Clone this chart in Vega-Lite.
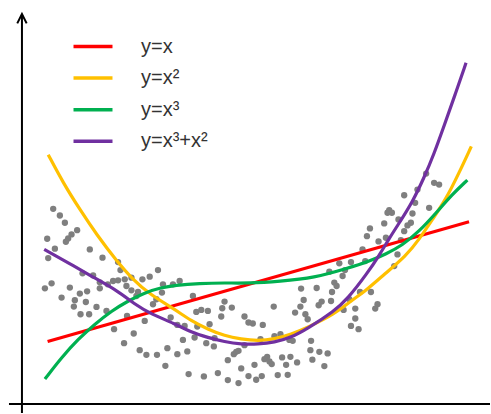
{
  "$schema": "https://vega.github.io/schema/vega-lite/v6.json",
  "width": 491,
  "height": 414,
  "autosize": {"type": "fit", "contains": "padding"},
  "padding": 0,
  "background": "white",
  "config": {"view": {"stroke": null}},
  "datasets": {
    "pts": [
      {"x":31.3,"y":195.7},{"x":38,"y":189},{"x":43,"y":181.7},{"x":55.3,"y":174.3},{"x":49.7,"y":170},{"x":46.3,"y":166},{"x":44,"y":162.7},{"x":25.3,"y":165.7},{"x":33,"y":155.7},{"x":26.3,"y":146.3},{"x":68,"y":155},{"x":80.7,"y":146.7},{"x":96.3,"y":142.3},{"x":98.7,"y":134.3},{"x":136.3,"y":134.3},{"x":128,"y":127.7},{"x":71.3,"y":129},{"x":60.7,"y":131},{"x":78,"y":122},{"x":86,"y":120},{"x":91.3,"y":123.3},{"x":96.3,"y":124},{"x":103,"y":125},{"x":109.7,"y":126.7},{"x":120.7,"y":125},{"x":141.3,"y":120},{"x":151.3,"y":120},{"x":23,"y":116},{"x":29.7,"y":121},{"x":48,"y":116.7},{"x":39.7,"y":106.7},{"x":58,"y":110.7},{"x":65.3,"y":113},{"x":53,"y":104},{"x":64,"y":102.3},{"x":52,"y":97.7},{"x":58.7,"y":90},{"x":67.3,"y":90},{"x":74.7,"y":97.3},{"x":84.7,"y":93.3},{"x":78,"y":116},{"x":116.3,"y":112.3},{"x":104.7,"y":118.3},{"x":109.7,"y":114},{"x":114.7,"y":108.3},{"x":134.7,"y":105},{"x":140.3,"y":111.7},{"x":131.3,"y":100},{"x":123,"y":83.3},{"x":105.3,"y":88.3},{"x":92.3,"y":75},{"x":112,"y":70.7},{"x":102.3,"y":61},{"x":118,"y":54},{"x":124.7,"y":49.3},{"x":135.3,"y":49.3},{"x":145.7,"y":56},{"x":143.7,"y":38.3},{"x":149,"y":86.7},
      {"x":158,"y":123.3},{"x":171.3,"y":108.3},{"x":203,"y":102.7},{"x":200.7,"y":96},{"x":210.3,"y":96.7},{"x":174.7,"y":92.3},{"x":179.7,"y":94.3},{"x":186.3,"y":93.3},{"x":199.7,"y":87.7},{"x":223,"y":87.7},{"x":227,"y":81.7},{"x":231.3,"y":80.7},{"x":241.3,"y":79.3},{"x":252.3,"y":97.7},{"x":279.7,"y":115.7},{"x":282.3,"y":104.3},{"x":279,"y":97.7},{"x":273.7,"y":91.7},{"x":284,"y":90},{"x":286.3,"y":85},{"x":188,"y":80},{"x":175.7,"y":77.7},{"x":163,"y":78.3},{"x":155.7,"y":79.3},{"x":173,"y":66.7},{"x":161.3,"y":64.3},{"x":184.7,"y":61},{"x":193,"y":66},{"x":192.3,"y":57.7},{"x":223,"y":59},{"x":239,"y":65},{"x":253,"y":68},{"x":259,"y":70},{"x":268,"y":64.3},{"x":271.3,"y":63.3},{"x":289.7,"y":63.3},{"x":155.7,"y":50},{"x":165.7,"y":52.7},{"x":212.3,"y":50},{"x":214.7,"y":52.3},{"x":217,"y":53.3},{"x":206.3,"y":44},{"x":233,"y":39.3},{"x":245.7,"y":47.3},{"x":243,"y":45},{"x":248,"y":42.7},{"x":250.3,"y":40},{"x":260.7,"y":46.7},{"x":269,"y":47.3},{"x":264.7,"y":39.3},{"x":275.7,"y":41.7},{"x":289,"y":54},{"x":219.7,"y":35.7},{"x":167,"y":30},{"x":182.3,"y":27.7},{"x":196.3,"y":31},{"x":206.3,"y":24},{"x":217,"y":21},{"x":227,"y":28},{"x":234.7,"y":24.3},{"x":240.3,"y":28},{"x":256.3,"y":29},{"x":266.3,"y":29.3},
      {"x":413,"y":221.7},{"x":418,"y":220},{"x":405,"y":231},{"x":383,"y":209.3},{"x":396.3,"y":215},{"x":394,"y":201.7},{"x":408,"y":196.7},{"x":368,"y":194.3},{"x":366.3,"y":191.7},{"x":370.7,"y":191.7},{"x":391.3,"y":191},{"x":377.3,"y":185},{"x":389.7,"y":181.7},{"x":386.3,"y":179},{"x":363,"y":181},{"x":383,"y":173.3},{"x":348.7,"y":176},{"x":345.7,"y":168.3},{"x":357.3,"y":163},{"x":364.7,"y":166.7},{"x":341.3,"y":155},{"x":379.7,"y":164.3},{"x":376.3,"y":150},{"x":344,"y":143.3},{"x":329.7,"y":142.3},{"x":318,"y":141},{"x":323.7,"y":134.3},{"x":308,"y":132.7},{"x":321.3,"y":128.3},{"x":313,"y":121.7},{"x":315.3,"y":118.3},{"x":310.7,"y":112.3},{"x":373,"y":138.3},{"x":295.3,"y":116.3},{"x":300.3,"y":102.7},{"x":297.3,"y":99},{"x":309.7,"y":103.3},{"x":328,"y":105},{"x":338.7,"y":112.3},{"x":349.7,"y":112.3},{"x":356.3,"y":100},{"x":354,"y":95.7},{"x":322.3,"y":94.3},{"x":334,"y":95.7},{"x":334,"y":85.7},{"x":329.7,"y":78.3},{"x":337.3,"y":75},{"x":298,"y":52.3},{"x":306.3,"y":50.7},{"x":303,"y":38},{"x":291,"y":44.5}
    ],
    "curves": [
      {"s":"y=x","x":25.7,"y":62.7},{"s":"y=x","x":448,"y":182.7},
      {"s":"y=x²","x":26.3,"y":250},{"s":"y=x²","x":41.3,"y":221.7},{"s":"y=x²","x":58,"y":195},{"s":"y=x²","x":74.7,"y":170},{"s":"y=x²","x":95,"y":143.3},{"s":"y=x²","x":111,"y":125},{"s":"y=x²","x":128,"y":110},{"s":"y=x²","x":153,"y":95},{"s":"y=x²","x":169.7,"y":83.3},{"s":"y=x²","x":186.3,"y":75},{"s":"y=x²","x":203,"y":68.3},{"s":"y=x²","x":219.7,"y":65},{"s":"y=x²","x":236.3,"y":63.3},{"s":"y=x²","x":253,"y":65},{"s":"y=x²","x":269.7,"y":70},{"s":"y=x²","x":286.3,"y":76.7},{"s":"y=x²","x":313,"y":90},{"s":"y=x²","x":329.7,"y":103.3},{"s":"y=x²","x":346.3,"y":115},{"s":"y=x²","x":363,"y":130},{"s":"y=x²","x":384.7,"y":148.3},{"s":"y=x²","x":398,"y":165},{"s":"y=x²","x":411.3,"y":185},{"s":"y=x²","x":424.7,"y":205},{"s":"y=x²","x":438,"y":231.7},{"s":"y=x²","x":450.3,"y":258.3},
      {"s":"y=x³","x":23,"y":25},{"s":"y=x³","x":39.7,"y":46.7},{"s":"y=x³","x":56.3,"y":65},{"s":"y=x³","x":73,"y":80},{"s":"y=x³","x":89.7,"y":93.3},{"s":"y=x³","x":106.3,"y":103.3},{"s":"y=x³","x":123,"y":111.7},{"s":"y=x³","x":139.7,"y":116.7},{"s":"y=x³","x":153,"y":119},{"s":"y=x³","x":178,"y":121},{"s":"y=x³","x":203,"y":121.5},{"s":"y=x³","x":228,"y":121},{"s":"y=x³","x":258,"y":123},{"s":"y=x³","x":293,"y":126.5},{"s":"y=x³","x":326,"y":136},{"s":"y=x³","x":348,"y":143},{"s":"y=x³","x":365,"y":150.5},{"s":"y=x³","x":381,"y":159},{"s":"y=x³","x":398,"y":173},{"s":"y=x³","x":415,"y":191.5},{"s":"y=x³","x":431,"y":210},{"s":"y=x³","x":446.3,"y":224.5},
      {"s":"y=x³+x²","x":22.3,"y":155},{"s":"y=x³+x²","x":46.3,"y":141.7},{"s":"y=x³+x²","x":68,"y":129},{"s":"y=x³+x²","x":96.3,"y":113.3},{"s":"y=x³+x²","x":113,"y":100},{"s":"y=x³+x²","x":129.7,"y":90},{"s":"y=x³+x²","x":153,"y":80.7},{"s":"y=x³+x²","x":169.7,"y":71.7},{"s":"y=x³+x²","x":186.3,"y":66.7},{"s":"y=x³+x²","x":203,"y":62.3},{"s":"y=x³+x²","x":219.7,"y":60},{"s":"y=x³+x²","x":236.3,"y":60},{"s":"y=x³+x²","x":253,"y":61.7},{"s":"y=x³+x²","x":269.7,"y":66.7},{"s":"y=x³+x²","x":286.3,"y":75.7},{"s":"y=x³+x²","x":313,"y":93.3},{"s":"y=x³+x²","x":326,"y":105},{"s":"y=x³+x²","x":346,"y":131},{"s":"y=x³+x²","x":358,"y":149},{"s":"y=x³+x²","x":368,"y":166},{"s":"y=x³+x²","x":379,"y":183},{"s":"y=x³+x²","x":391,"y":202},{"s":"y=x³+x²","x":403,"y":227},{"s":"y=x³+x²","x":413,"y":251},{"s":"y=x³+x²","x":423,"y":279},{"s":"y=x³+x²","x":434,"y":310},{"s":"y=x³+x²","x":445,"y":342}
    ]
  },
  "layer": [
    {
      "data": {"name": "pts"},
      "mark": {"type": "circle", "size": 40, "color": "#7f7f7f", "opacity": 1},
      "encoding": {
        "x": {"field": "x", "type": "quantitative", "axis": null, "scale": {"domain": [-22, 469], "nice": false, "zero": false}},
        "y": {"field": "y", "type": "quantitative", "axis": null, "scale": {"domain": [-9, 405], "nice": false, "zero": false}}
      }
    },
    {
      "data": {"name": "curves"},
      "mark": {"type": "line", "interpolate": "basis", "strokeWidth": 3.2, "strokeCap": "butt"},
      "encoding": {
        "x": {"field": "x", "type": "quantitative"},
        "y": {"field": "y", "type": "quantitative"},
        "color": {
          "field": "s", "type": "nominal",
          "scale": {"domain": ["y=x", "y=x²", "y=x³", "y=x³+x²"], "range": ["#ff0000", "#ffc000", "#00b050", "#7030a0"]},
          "legend": {
            "orient": "none", "legendX": 81.5, "legendY": 35, "title": null, "padding": 0,
            "symbolType": "M-2,0L2,0", "symbolSize": 380, "symbolStrokeWidth": 3.5,
            "labelFontSize": 20, "labelFont": "Liberation Sans", "labelColor": "#333333",
            "labelOffset": 36.5, "rowPadding": 9.6
          }
        }
      }
    },
    {
      "data": {"values": [{}]},
      "mark": {"type": "rule", "stroke": "black", "strokeWidth": 2},
      "encoding": {"x": {"datum": 0, "type": "quantitative"}, "y": {"datum": -9, "type": "quantitative"}, "y2": {"datum": 391}}
    },
    {
      "data": {"values": [{}]},
      "mark": {"type": "rule", "stroke": "black", "strokeWidth": 2},
      "encoding": {"y": {"datum": 0, "type": "quantitative"}, "x": {"datum": -13, "type": "quantitative"}, "x2": {"datum": 469}}
    },
    {
      "data": {"values": [{}]},
      "mark": {"type": "point", "shape": "M-1,2L0,0L1,2", "size": 88, "filled": false, "stroke": "black", "strokeWidth": 2, "opacity": 1},
      "encoding": {"x": {"datum": 0, "type": "quantitative"}, "y": {"datum": 391, "type": "quantitative"}}
    }
  ]
}
